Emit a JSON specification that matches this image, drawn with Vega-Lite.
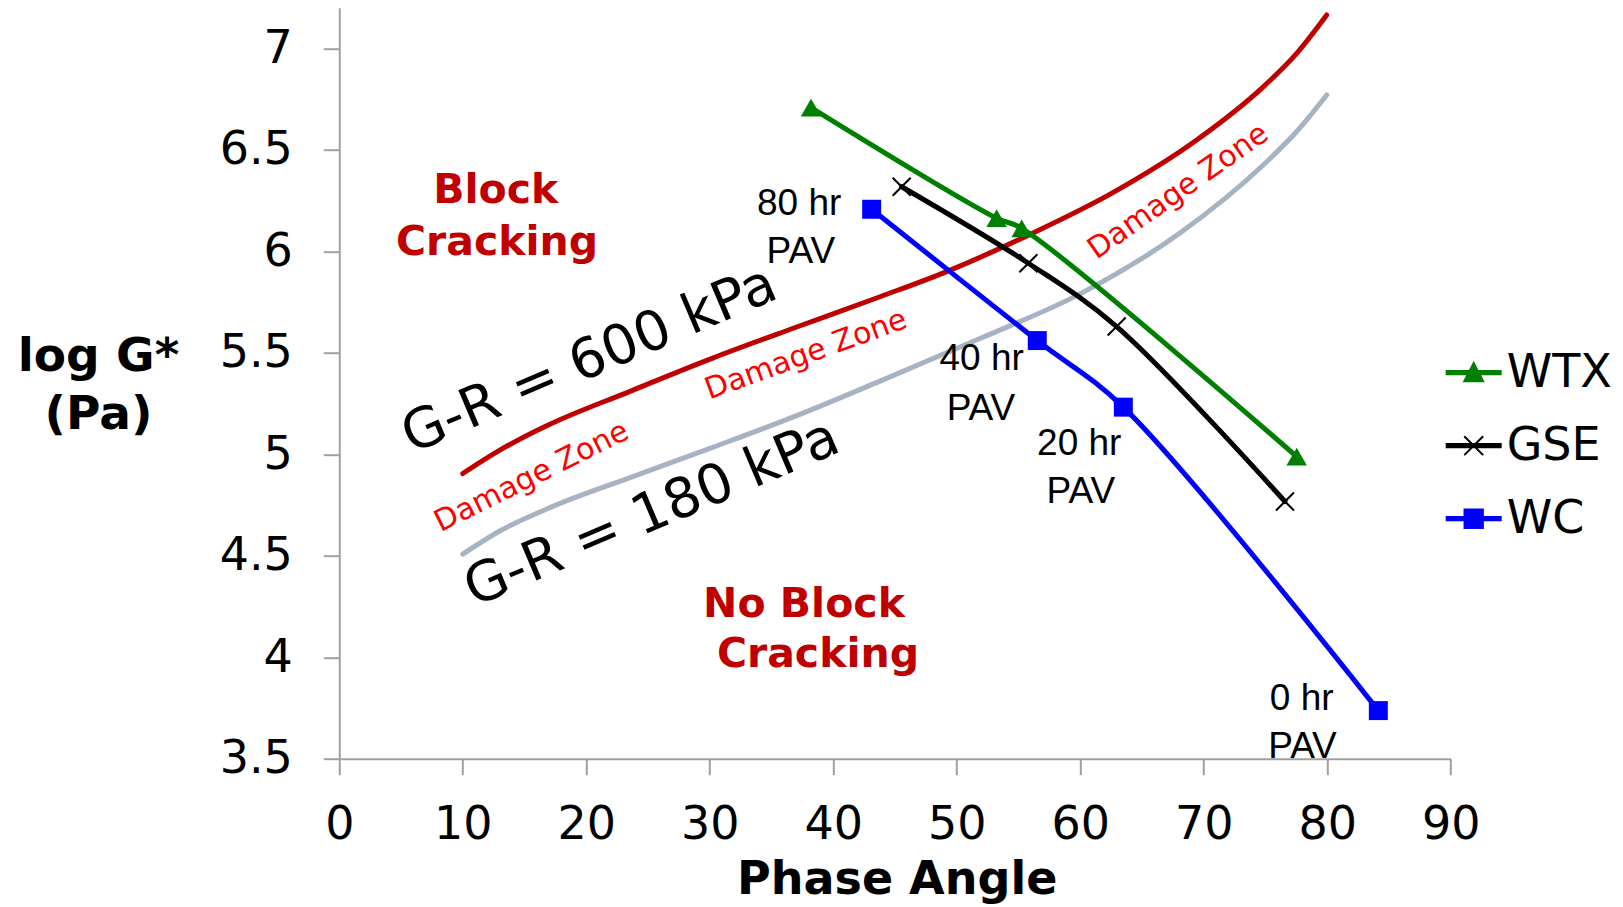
{
  "$schema": "https://vega.github.io/schema/vega-lite/v6.json",
  "width": 1111.4,
  "height": 751,
  "autosize": "none",
  "padding": {"left": 339.3, "top": 7.7, "right": 172.3, "bottom": 148.3},
  "background": "white",
  "config": {"view": {"stroke": null}, "font": "DejaVu Sans"},
  "datasets": {
    "gr": [
      {"curve": "600", "x": 10, "y": 4.905},
      {"curve": "600", "x": 13, "y": 5.02},
      {"curve": "600", "x": 16.79, "y": 5.14},
      {"curve": "600", "x": 23.54, "y": 5.31},
      {"curve": "600", "x": 30.29, "y": 5.475},
      {"curve": "600", "x": 37.04, "y": 5.627},
      {"curve": "600", "x": 43.79, "y": 5.776},
      {"curve": "600", "x": 49.19, "y": 5.9},
      {"curve": "600", "x": 55.93, "y": 6.083},
      {"curve": "600", "x": 62.68, "y": 6.29},
      {"curve": "600", "x": 69.43, "y": 6.548},
      {"curve": "600", "x": 74.82, "y": 6.81},
      {"curve": "600", "x": 77.53, "y": 6.975},
      {"curve": "600", "x": 79.96, "y": 7.164},
      {"curve": "180", "x": 10, "y": 4.508},
      {"curve": "180", "x": 13, "y": 4.622},
      {"curve": "180", "x": 16.79, "y": 4.73},
      {"curve": "180", "x": 23.54, "y": 4.885},
      {"curve": "180", "x": 30.29, "y": 5.035},
      {"curve": "180", "x": 37.04, "y": 5.19},
      {"curve": "180", "x": 43.79, "y": 5.36},
      {"curve": "180", "x": 51.88, "y": 5.57},
      {"curve": "180", "x": 59.98, "y": 5.79},
      {"curve": "180", "x": 68.08, "y": 6.09},
      {"curve": "180", "x": 74.82, "y": 6.425},
      {"curve": "180", "x": 77.53, "y": 6.59},
      {"curve": "180", "x": 79.96, "y": 6.77}
    ],
    "series": [
      {"series": "WTX", "x": 38.2, "y": 6.708},
      {"series": "WTX", "x": 53.23, "y": 6.163},
      {"series": "WTX", "x": 55.26, "y": 6.113},
      {"series": "WTX", "x": 77.53, "y": 4.988},
      {"series": "GSE", "x": 45.54, "y": 6.318},
      {"series": "GSE", "x": 55.8, "y": 5.941},
      {"series": "GSE", "x": 62.95, "y": 5.629},
      {"series": "GSE", "x": 76.58, "y": 4.767},
      {"series": "WC", "x": 43.11, "y": 6.207},
      {"series": "WC", "x": 56.52, "y": 5.56},
      {"series": "WC", "x": 63.49, "y": 5.232},
      {"series": "WC", "x": 84.14, "y": 3.737}
    ],
    "notes": [
      {"group": "pav", "x": 37.24, "y": 6.179, "text": "80 hr"},
      {"group": "pav", "x": 37.37, "y": 5.941, "text": "PAV"},
      {"group": "pav", "x": 52.02, "y": 5.415, "text": "40 hr"},
      {"group": "pav", "x": 51.96, "y": 5.17, "text": "PAV"},
      {"group": "pav", "x": 59.92, "y": 4.996, "text": "20 hr"},
      {"group": "pav", "x": 60.05, "y": 4.758, "text": "PAV"},
      {"group": "pav", "x": 77.93, "y": 3.74, "text": "0 hr"},
      {"group": "pav", "x": 78.0, "y": 3.502, "text": "PAV"},
      {"group": "region", "x": 12.67, "y": 6.236, "text": "Block"},
      {"group": "region", "x": 12.77, "y": 5.982, "text": "Cracking"},
      {"group": "region", "x": 37.63, "y": 4.2, "text": "No Block"},
      {"group": "region", "x": 38.76, "y": 3.953, "text": "Cracking"},
      {"group": "gr", "x": 20.24, "y": 5.465, "text": "G-R = 600 kPa"},
      {"group": "gr", "x": 25.3, "y": 4.71, "text": "G-R = 180 kPa"},
      {"group": "dz1", "x": 15.58, "y": 4.889, "text": "Damage Zone"},
      {"group": "dz2", "x": 37.79, "y": 5.49, "text": "Damage Zone"},
      {"group": "dz3", "x": 67.94, "y": 6.294, "text": "Damage Zone"}
    ]
  },
  "encoding": {
    "x": {
      "field": "x", "type": "quantitative",
      "scale": {"domain": [0, 90], "nice": false, "zero": false},
      "title": "Phase Angle",
      "axis": {
        "values": [0, 10, 20, 30, 40, 50, 60, 70, 80, 90],
        "format": "d", "grid": false,
        "domainColor": "#A0A0A0", "domainWidth": 2,
        "tickColor": "#A0A0A0", "tickWidth": 2, "tickSize": 16,
        "labelFont": "DejaVu Sans", "labelFontSize": 46, "labelColor": "black",
        "labelPadding": 28, "labelFlush": false, "labelOverlap": false,
        "titleFont": "DejaVu Sans", "titleFontWeight": "bold", "titleFontSize": 46, "titleColor": "black",
        "titleX": 557.4, "titleY": 134.6, "titleAlign": "center", "titleBaseline": "alphabetic"
      }
    },
    "y": {
      "field": "y", "type": "quantitative",
      "scale": {"domain": [3.5, 7.2], "nice": false, "zero": false},
      "title": ["log G*", "(Pa)"],
      "axis": {
        "values": [3.5, 4, 4.5, 5, 5.5, 6, 6.5, 7],
        "format": "~g", "grid": false,
        "domainColor": "#A0A0A0", "domainWidth": 2,
        "tickColor": "#A0A0A0", "tickWidth": 2, "tickSize": 16,
        "labelFont": "DejaVu Sans", "labelFontSize": 46, "labelColor": "black",
        "labelPadding": 31, "labelFlush": false, "labelOverlap": false,
        "titleFont": "DejaVu Sans", "titleFontWeight": "bold", "titleFontSize": 47, "titleColor": "black",
        "titleAngle": 0, "titleX": -241.3, "titleY": 363, "titleAlign": "center",
        "titleBaseline": "alphabetic", "titleLineHeight": 58
      }
    }
  },
  "layer": [
    {
      "data": {"name": "gr"},
      "transform": [{"filter": "datum.curve === '180'"}],
      "mark": {"type": "line", "color": "#A5B3C3", "strokeWidth": 5, "interpolate": "monotone", "strokeCap": "round"},
      "encoding": {}
    },
    {
      "data": {"name": "gr"},
      "transform": [{"filter": "datum.curve === '600'"}],
      "mark": {"type": "line", "color": "#C00000", "strokeWidth": 5, "interpolate": "monotone", "strokeCap": "round"},
      "encoding": {}
    },
    {
      "data": {"name": "series"},
      "mark": {"type": "line", "strokeWidth": 5, "interpolate": "catmull-rom", "strokeCap": "round"},
      "encoding": {
        "color": {
          "field": "series", "type": "nominal",
          "scale": {"domain": ["WTX", "GSE", "WC"], "range": ["#008000", "#000000", "#0000FF"]},
          "legend": {
            "title": null, "orient": "none", "legendX": 1106.4, "legendY": 337, "padding": 0,
            "symbolSize": 2916, "symbolType": "M-1,-0.06H1V0.06H-1Z", "symbolStrokeWidth": 2,
            "labelFont": "DejaVu Sans", "labelFontSize": 46, "labelColor": "black",
            "labelOffset": 5, "labelLimit": 0, "rowPadding": 22,
            "encode": {
              "symbols": {
                "update": {
                  "shape": {"signal": "datum.value === 'WTX' ? 'M-1,-0.06H1V0.06H-1ZM0,-0.36L0.35,0.32L-0.35,0.32Z' : datum.value === 'GSE' ? 'M-1,-0.06H1V0.06H-1ZM-0.35,-0.35L0.35,0.35M-0.35,0.35L0.35,-0.35' : 'M-1,-0.06H1V0.06H-1ZM-0.34,-0.34H0.34V0.34H-0.34Z'"},
                  "fill": {"signal": "datum.value === 'WTX' ? '#008000' : datum.value === 'GSE' ? '#000000' : '#0000FF'"},
                  "stroke": {"signal": "datum.value === 'WTX' ? '#008000' : datum.value === 'GSE' ? '#000000' : '#0000FF'"},
                  "strokeWidth": {"value": 2},
                  "opacity": {"value": 1},
                  "size": {"value": 2916}
                }
              }
            }
          }
        }
      }
    },
    {
      "data": {"name": "series"},
      "transform": [{"filter": "datum.series === 'WTX'"}],
      "mark": {"type": "point", "shape": "triangle-up", "filled": true, "color": "#008000", "size": 420, "opacity": 1}
    },
    {
      "data": {"name": "series"},
      "transform": [{"filter": "datum.series === 'GSE'"}],
      "mark": {"type": "point", "shape": "M-1,-1L1,1M-1,1L1,-1", "filled": false, "stroke": "#000000", "strokeWidth": 2, "size": 324, "opacity": 1}
    },
    {
      "data": {"name": "series"},
      "transform": [{"filter": "datum.series === 'WC'"}],
      "mark": {"type": "point", "shape": "square", "filled": true, "color": "#0000FF", "size": 360, "opacity": 1}
    },
    {
      "data": {"name": "notes"},
      "transform": [{"filter": "datum.group === 'pav'"}],
      "mark": {"type": "text", "font": "Liberation Sans", "fontSize": 37, "color": "#000000", "align": "center", "baseline": "alphabetic"},
      "encoding": {"text": {"field": "text", "type": "nominal"}}
    },
    {
      "data": {"name": "notes"},
      "transform": [{"filter": "datum.group === 'region'"}],
      "mark": {"type": "text", "font": "DejaVu Sans", "fontWeight": "bold", "fontSize": 41, "color": "#C00000", "align": "center", "baseline": "alphabetic"},
      "encoding": {"text": {"field": "text", "type": "nominal"}}
    },
    {
      "data": {"name": "notes"},
      "transform": [{"filter": "datum.group === 'gr'"}],
      "mark": {"type": "text", "font": "DejaVu Sans", "fontSize": 55, "color": "#000000", "align": "center", "baseline": "middle", "angle": -23},
      "encoding": {"text": {"field": "text", "type": "nominal"}}
    },
    {
      "data": {"name": "notes"},
      "transform": [{"filter": "datum.group === 'dz1'"}],
      "mark": {"type": "text", "font": "DejaVu Sans", "fontSize": 30, "color": "#FF0000", "align": "center", "baseline": "middle", "angle": -26.5},
      "encoding": {"text": {"field": "text", "type": "nominal"}}
    },
    {
      "data": {"name": "notes"},
      "transform": [{"filter": "datum.group === 'dz2'"}],
      "mark": {"type": "text", "font": "DejaVu Sans", "fontSize": 30, "color": "#FF0000", "align": "center", "baseline": "middle", "angle": -20},
      "encoding": {"text": {"field": "text", "type": "nominal"}}
    },
    {
      "data": {"name": "notes"},
      "transform": [{"filter": "datum.group === 'dz3'"}],
      "mark": {"type": "text", "font": "DejaVu Sans", "fontSize": 30, "color": "#FF0000", "align": "center", "baseline": "middle", "angle": -35},
      "encoding": {"text": {"field": "text", "type": "nominal"}}
    }
  ]
}
